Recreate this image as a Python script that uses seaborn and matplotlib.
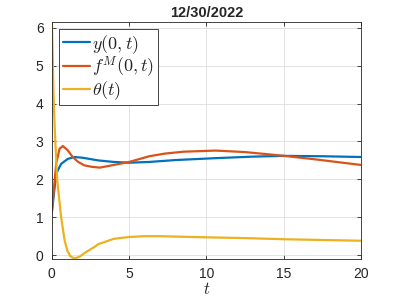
import pandas as pd
import numpy as np
import matplotlib
matplotlib.use("Agg")
import matplotlib.pyplot as plt
import seaborn as sns

# values
t_y = [0, 0.28, 0.6, 1.03, 1.46, 2.0, 3.0, 4.0, 5.0, 6.3, 8.0, 10.6, 13.0, 15.0, 17.5, 20.0]
y_vals = [1.14, 2.15, 2.41, 2.54, 2.59, 2.57, 2.50, 2.46, 2.44, 2.46, 2.51, 2.56, 2.60, 2.62, 2.61, 2.59]

t_f = [0, 0.28, 0.5, 0.71, 1.0, 1.35, 1.7, 2.1, 2.6, 3.1, 4.0, 5.0, 6.3, 7.3, 8.5, 10.6, 12.5, 14.8, 17.0, 20.0]
f_vals = [1.14, 2.42, 2.81, 2.88, 2.78, 2.59, 2.46, 2.37, 2.33, 2.31, 2.38, 2.46, 2.61, 2.68, 2.73, 2.76, 2.72, 2.63, 2.53, 2.38]

t_th = [0, 0.05, 0.1, 0.2, 0.34, 0.6, 0.82, 1.0, 1.2, 1.46, 1.8, 2.2, 2.77, 3.0, 4.0, 5.0, 6.0, 7.0, 8.0, 10.0, 12.5, 15.0, 17.5, 20.0]
th_vals = [6.2, 5.3, 4.3, 3.2, 2.0, 1.0, 0.4, 0.12, -0.03, -0.09, -0.04, 0.08, 0.22, 0.29, 0.43, 0.48, 0.50, 0.50, 0.49, 0.47, 0.45, 0.42, 0.40, 0.38]

labels = [r"$y(0,t)$", r"$f^M(0,t)$", r"$\theta(t)$"]
colors = ["#0072BD", "#D95319", "#EDB120"]

df = pd.concat([
    pd.DataFrame({"t": t_y, "val": y_vals, "series": labels[0]}),
    pd.DataFrame({"t": t_f, "val": f_vals, "series": labels[1]}),
    pd.DataFrame({"t": t_th, "val": th_vals, "series": labels[2]}),
])

sns.set_style("whitegrid")
plt.rcParams["font.family"] = ["Liberation Sans", "DejaVu Sans"]
plt.rcParams["mathtext.fontset"] = "cm"

fig = plt.figure(figsize=(3.99, 2.99), dpi=100)
ax = fig.add_axes([0.130, 0.134, 0.775, 0.792])

sns.lineplot(data=df, x="t", y="val", hue="series", palette=colors,
             estimator=None, sort=False, linewidth=1.6, ax=ax)

ax.set_xlim(0, 20)
ax.set_ylim(-0.1, 6.15)
ax.set_xticks([0, 5, 10, 15, 20])
ax.set_yticks([0, 1, 2, 3, 4, 5, 6])
ax.grid(True, color="#dedede", linewidth=0.6)
for s in ax.spines.values():
    s.set_color("#262626")
    s.set_linewidth(0.6)
ax.tick_params(direction="in", length=3, width=0.6, color="#262626",
               labelsize=10, labelcolor="#262626", top=True, right=True,
               bottom=True, left=True, pad=6)
ax.set_xlabel(r"$t$", fontsize=12, labelpad=0)
ax.set_ylabel("")
ax.set_title("12/30/2022", fontsize=10.5, fontweight="bold", pad=4)

leg = ax.legend(loc="upper left", fontsize=13, frameon=True, fancybox=False,
                edgecolor="#262626", framealpha=1, handlelength=1.5,
                handletextpad=0.15, borderpad=0.2, labelspacing=-0.05,
                borderaxespad=0.4)
leg.get_frame().set_linewidth(0.6)

fig.savefig("out.png", dpi=100)
